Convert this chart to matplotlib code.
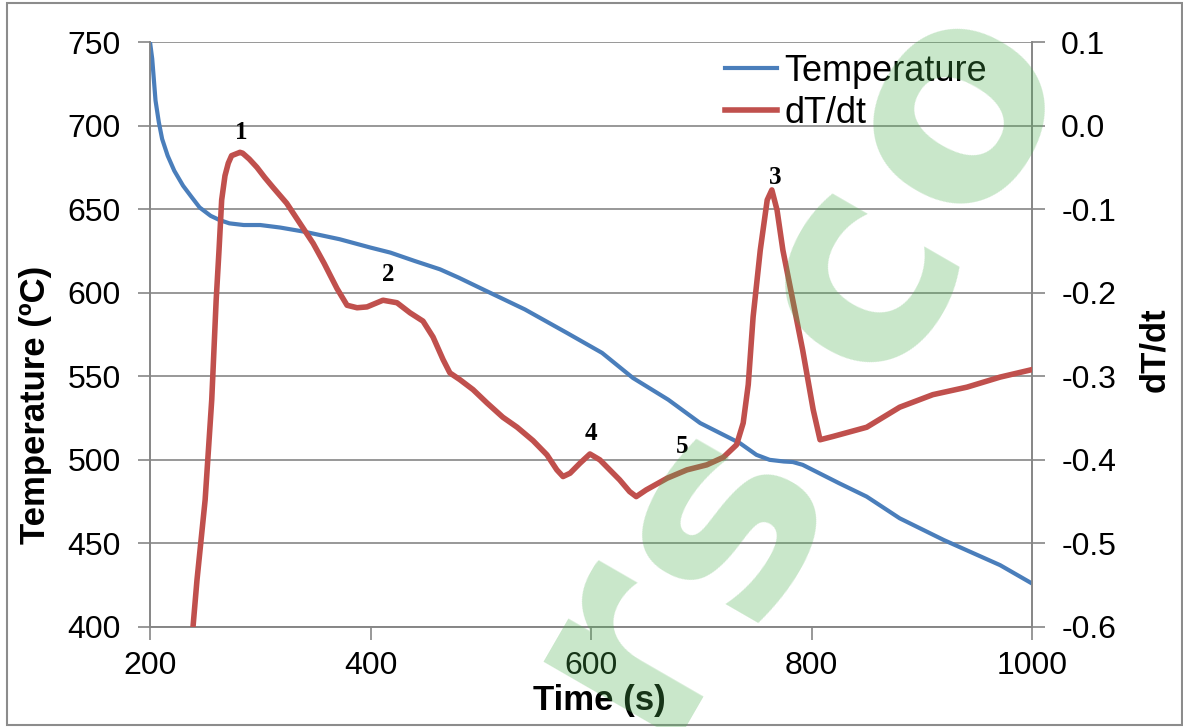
import matplotlib
matplotlib.use("Agg")
import matplotlib.pyplot as plt
from matplotlib.lines import Line2D
from matplotlib.patches import Rectangle

# cooling curve, time (s) vs temperature (degC)
temp_time = [200, 202, 205, 208, 211, 216, 222, 230, 238, 245, 255, 263,
             272, 285, 300, 318, 340, 372, 400, 418, 440, 463, 480, 502,
             540, 578, 610, 638, 670, 699, 735, 750, 762, 775, 783, 792,
             801, 825, 850, 880, 920, 971, 1000]
temp_vals = [750, 740, 715, 702, 692, 682, 673, 664, 657, 651, 646, 643.5,
             641.5, 640.5, 640.5, 639, 636.5, 632, 627, 624, 619, 614, 609,
             602, 590, 576, 564, 549, 536, 522, 510, 503, 500, 499, 498.7,
             497, 494, 486, 478, 465, 452, 437, 426]

# cooling rate dT/dt
rate_time = [239, 242.6, 250, 256, 260, 262.6, 265, 268, 271, 274, 281.6,
             284, 290, 297, 304, 311.6, 324, 336, 348, 358, 363, 369.6,
             378.7, 387.8, 396.8, 411.3, 424, 435.8, 447.6, 456.7, 465.8,
             472, 481, 493, 505.7, 520, 533, 547.4, 560, 569, 574.6, 581,
             590, 599, 608, 617, 626, 635, 641, 650, 669, 687, 705, 720,
             732, 738, 742.6, 747, 753.5, 759.8, 764, 768.7, 774, 783, 792,
             801.5, 807.7, 819.5, 850, 880, 910, 941, 971, 1000]
rate_vals = [-0.60, -0.544, -0.448, -0.328, -0.209, -0.149, -0.089, -0.06,
             -0.045, -0.036, -0.032, -0.033, -0.04, -0.05, -0.062, -0.074,
             -0.093, -0.117, -0.141, -0.165, -0.178, -0.195, -0.215, -0.218,
             -0.217, -0.209, -0.212, -0.224, -0.234, -0.253, -0.28, -0.296,
             -0.304, -0.316, -0.332, -0.349, -0.361, -0.377, -0.394, -0.412,
             -0.42, -0.416, -0.404, -0.393, -0.40, -0.412, -0.424, -0.438,
             -0.444, -0.436, -0.422, -0.412, -0.406, -0.397, -0.382, -0.356,
             -0.31, -0.229, -0.149, -0.089, -0.077, -0.101, -0.149, -0.209,
             -0.269, -0.34, -0.376, -0.372, -0.361, -0.337, -0.322, -0.313,
             -0.301, -0.292]

# numbered events, placed on the temperature axis
event_labels = ["1", "2", "3", "4", "5"]
event_time = [283, 416, 767, 600, 683]
event_temp = [696, 611, 669, 516, 508]

x_ticks = [200, 400, 600, 800, 1000]
t_ticks = [400, 450, 500, 550, 600, 650, 700, 750]
r_ticks = [-0.6, -0.5, -0.4, -0.3, -0.2, -0.1, 0.0, 0.1]

BLUE = "#4a7ebb"
RED = "#c0504d"
GRID = "#868686"

plt.rcParams["font.family"] = ["Liberation Sans", "DejaVu Sans"]

fig = plt.figure(figsize=(11.83, 7.27), dpi=100)
ax = fig.add_axes([0.1268, 0.1376, 0.7456, 0.8046])
ax2 = ax.twinx()

ax.plot(temp_time, temp_vals, color=BLUE, lw=3.0, solid_capstyle="butt",
        zorder=3)
ax2.plot(rate_time, rate_vals, color=RED, lw=4.0, solid_joinstyle="round",
         zorder=3)

ax.set_xlim(200, 1000)
ax.set_ylim(400, 750)
ax2.set_ylim(-0.6, 0.1)
ax.set_xticks(x_ticks)
ax.set_yticks(t_ticks)
ax2.set_yticks(r_ticks)
ax2.set_yticklabels([f"{v:.1f}" for v in r_ticks])

ax.grid(axis="y", color=GRID, lw=1.2)
ax.set_axisbelow(True)
for a in (ax, ax2):
    a.spines["top"].set_visible(False)
    for side in ("left", "right", "bottom"):
        a.spines[side].set_color(GRID)
        a.spines[side].set_linewidth(1.2)
ax.tick_params(axis="both", colors=GRID, labelcolor="black", labelsize=23,
               length=9, width=1.2)
ax.tick_params(axis="y", pad=12)
ax.tick_params(axis="x", pad=8)
ax2.tick_params(axis="y", colors=GRID, labelcolor="black", labelsize=23,
                length=9, width=1.2, pad=12)

ax.set_xlabel("Time (s)", fontsize=25, fontweight="bold", va="center")
ax.set_ylabel("Temperature (ºC)", fontsize=25, fontweight="bold",
              va="center")
ax2.set_ylabel("dT/dt", fontsize=25, fontweight="bold", va="center",
               rotation=90)
ax.xaxis.set_label_coords(0.510, -0.125)
ax.yaxis.set_label_coords(-0.130, 0.379)
ax2.yaxis.set_label_coords(1.139, 0.474)

for lab, t, v in zip(event_labels, event_time, event_temp):
    ax.text(t, v, lab, fontsize=18, fontweight="bold", ha="center",
            va="center", family=["Liberation Serif", "DejaVu Serif"],
            zorder=5)

handles = [Line2D([], [], color=BLUE, lw=3.0),
           Line2D([], [], color=RED, lw=4.0)]
ax2.legend(handles, ["Temperature", "dT/dt"], loc="upper left",
           bbox_to_anchor=(0.652, 0.98), frameon=False, fontsize=26,
           handlelength=1.45, handletextpad=0.2, labelspacing=0.2,
           borderpad=0, borderaxespad=0)

# faint green lettering across the plot
wm = [("r", 622, 640), ("s", 722, 515), ("c", 857, 275), ("o", 953, 105)]
W, H = 1183, 727
for ch, px, py in wm:
    fig.text(px / W, 1 - py / H, ch, fontsize=205, fontweight="bold",
             family="DejaVu Sans", color="#4caf50", alpha=0.3,
             rotation=60, ha="center", va="center", zorder=10)

fig.patches.append(Rectangle((7 / W, 2 / H), 1175 / W, 722 / H,
                             transform=fig.transFigure, fill=False,
                             edgecolor="#8c8c8c", lw=1.5))

fig.savefig("out.png", dpi=100)
